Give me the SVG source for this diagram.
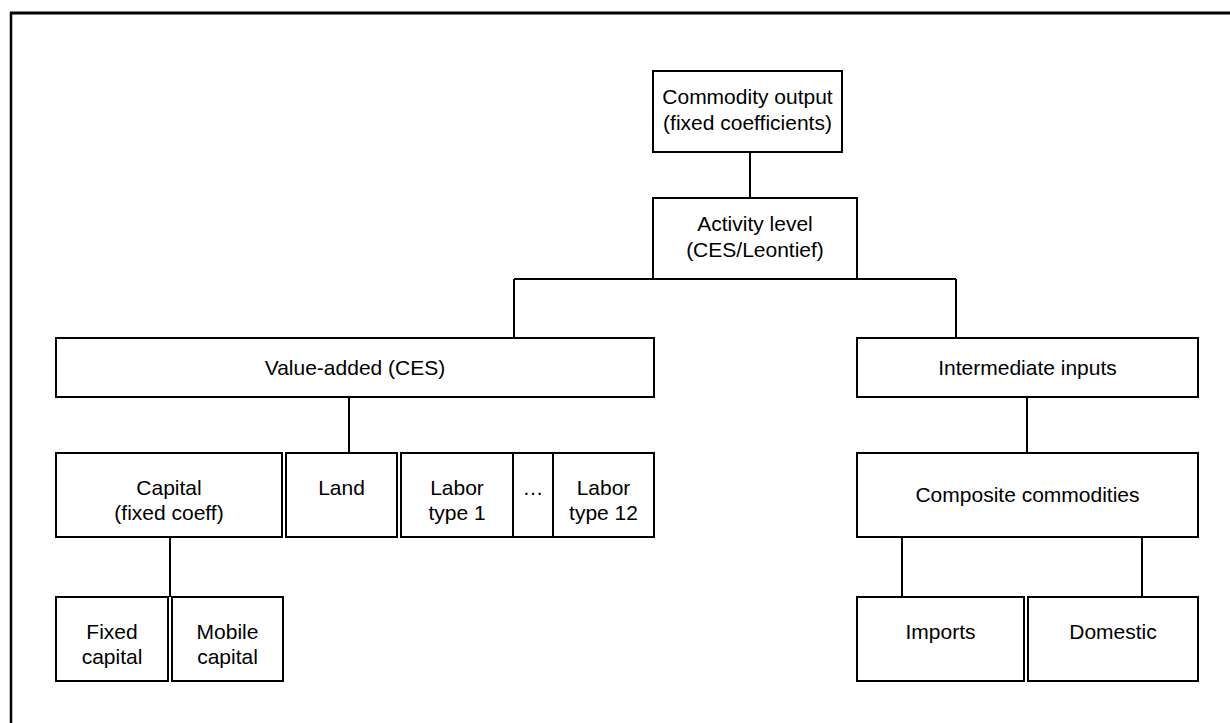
<svg xmlns="http://www.w3.org/2000/svg" width="1230" height="723" viewBox="0 0 1230 723">
<style>
.box{fill:#fff;stroke:#000;stroke-width:2}
.ln{stroke:#000;stroke-width:2;fill:none}
.frame{stroke:#000;fill:none}
text{font-family:"Liberation Sans",Arial,sans-serif;font-size:21px;fill:#000;text-anchor:middle}
</style>
<rect width="1230" height="723" fill="#fff"/>
<g id="frame">
<line class="frame" x1="10" y1="13" x2="1230" y2="13" stroke-width="3"/>
<line class="frame" x1="11" y1="12" x2="11" y2="723" stroke-width="2.5"/>
</g>
<g id="connectors">
<line class="ln" x1="750" y1="152" x2="750" y2="198"/>
<line class="ln" x1="514" y1="279" x2="956" y2="279"/>
<line class="ln" x1="514" y1="279" x2="514" y2="338"/>
<line class="ln" x1="956" y1="279" x2="956" y2="338"/>
<line class="ln" x1="349" y1="397" x2="349" y2="453"/>
<line class="ln" x1="1027" y1="397" x2="1027" y2="453"/>
<line class="ln" x1="170" y1="537" x2="170" y2="597"/>
<line class="ln" x1="902" y1="537" x2="902" y2="597"/>
<line class="ln" x1="1142" y1="537" x2="1142" y2="597"/>
</g>
<g id="commodity-output">
<rect class="box" x="653" y="71" width="189" height="81"/>
<text x="747.5" y="104">Commodity output</text>
<text x="747.5" y="130">(fixed coefficients)</text>
</g>
<g id="activity-level">
<rect class="box" x="653" y="198" width="204" height="81"/>
<text x="755" y="231">Activity level</text>
<text x="755" y="257">(CES/Leontief)</text>
</g>
<g id="value-added">
<rect class="box" x="56" y="338" width="598" height="59"/>
<text x="355" y="375">Value-added (CES)</text>
</g>
<g id="intermediate-inputs">
<rect class="box" x="857" y="338" width="341" height="59"/>
<text x="1027.5" y="375">Intermediate inputs</text>
</g>
<g id="capital">
<rect class="box" x="56" y="453" width="226" height="84"/>
<text x="169" y="495">Capital</text>
<text x="169" y="520">(fixed coeff)</text>
</g>
<g id="land">
<rect class="box" x="286" y="453" width="111" height="84"/>
<text x="341.5" y="495">Land</text>
</g>
<g id="labor-1">
<rect class="box" x="401" y="453" width="112" height="84"/>
<text x="457" y="495">Labor</text>
<text x="457" y="520">type 1</text>
</g>
<g id="ellipsis">
<rect class="box" x="513" y="453" width="40" height="84"/>
<text x="533" y="495">…</text>
</g>
<g id="labor-12">
<rect class="box" x="553" y="453" width="101" height="84"/>
<text x="603.5" y="495">Labor</text>
<text x="603.5" y="520">type 12</text>
</g>
<g id="composite-commodities">
<rect class="box" x="857" y="453" width="341" height="84"/>
<text x="1027.5" y="502">Composite commodities</text>
</g>
<g id="fixed-capital">
<rect class="box" x="56" y="597" width="112" height="84"/>
<text x="112" y="639">Fixed</text>
<text x="112" y="664">capital</text>
</g>
<g id="mobile-capital">
<rect class="box" x="172" y="597" width="111" height="84"/>
<text x="227.5" y="639">Mobile</text>
<text x="227.5" y="664">capital</text>
</g>
<g id="imports">
<rect class="box" x="857" y="597" width="167" height="84"/>
<text x="940.5" y="639">Imports</text>
</g>
<g id="domestic">
<rect class="box" x="1028" y="597" width="170" height="84"/>
<text x="1113" y="639">Domestic</text>
</g>
</svg>
